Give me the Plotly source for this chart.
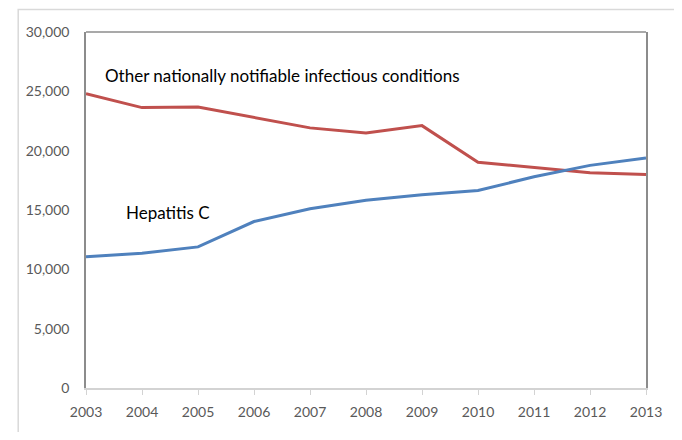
import plotly.graph_objects as go

years = [2003, 2004, 2005, 2006, 2007, 2008, 2009, 2010, 2011, 2012, 2013]
other_conditions = [24800, 23630, 23680, 22800, 21920, 21500, 22110, 19030, 18570, 18130, 17990]
hepatitis_c = [11070, 11350, 11890, 14030, 15100, 15820, 16290, 16640, 17800, 18760, 19390]
y_ticks = [0, 5000, 10000, 15000, 20000, 25000, 30000]

label_font = "Lato, Open Sans, sans-serif"

fig = go.Figure()
fig.add_trace(go.Scatter(x=years, y=other_conditions, mode="lines",
                         line=dict(color="#C0504D", width=3), name="Other"))
fig.add_trace(go.Scatter(x=years, y=hepatitis_c, mode="lines",
                         line=dict(color="#4F81BD", width=3), name="Hepatitis C"))

# the page body has an 8px default margin, so the figure is sized to fit inside it
fig.update_layout(
    width=666, height=424,
    margin=dict(l=78, r=18, t=24, b=36),
    paper_bgcolor="white", plot_bgcolor="white",
    showlegend=False,
    font=dict(family=label_font, size=14, color="#595959"),
    xaxis=dict(range=[2003, 2013], tickmode="array", tickvals=years,
               ticktext=[str(y) for y in years],
               showgrid=False, zeroline=False, showline=True,
               linecolor="#d3d3d3", linewidth=2,
               ticks="outside", ticklen=5, tickcolor="#d3d3d3",
               ticklabelstandoff=5,
               tickfont=dict(family=label_font, size=14, color="#595959")),
    yaxis=dict(range=[0, 30000], tickmode="array", tickvals=y_ticks,
               ticktext=[f"{v:,}" for v in y_ticks],
               showgrid=False, zeroline=False, showline=True, mirror=True,
               linecolor="#8c8c8c", linewidth=1.5, ticks="",
               ticklabelstandoff=12,
               tickfont=dict(family=label_font, size=14, color="#595959")),
)

# outer chart-area border and top border of plot area
fig.add_shape(type="rect", xref="paper", yref="paper",
              x0=-69/570, x1=1.2, y0=-0.2, y1=1 + 23/364,
              line=dict(color="#d9d9d9", width=1.5), layer="below")
fig.add_shape(type="line", xref="paper", yref="paper",
              x0=0, x1=1, y0=1, y1=1, line=dict(color="#8c8c8c", width=1.5))

fig.add_annotation(x=2003.3, y=26300, xref="x", yref="y",
                   text="Other nationally notifiable infectious conditions",
                   showarrow=False, xanchor="left", yanchor="middle",
                   font=dict(family=label_font, size=17, color="#000000"))
fig.add_annotation(x=2003.67, y=14830, xref="x", yref="y",
                   text="Hepatitis C",
                   showarrow=False, xanchor="left", yanchor="middle",
                   font=dict(family=label_font, size=17, color="#000000"))

fig.write_html("out.html")
